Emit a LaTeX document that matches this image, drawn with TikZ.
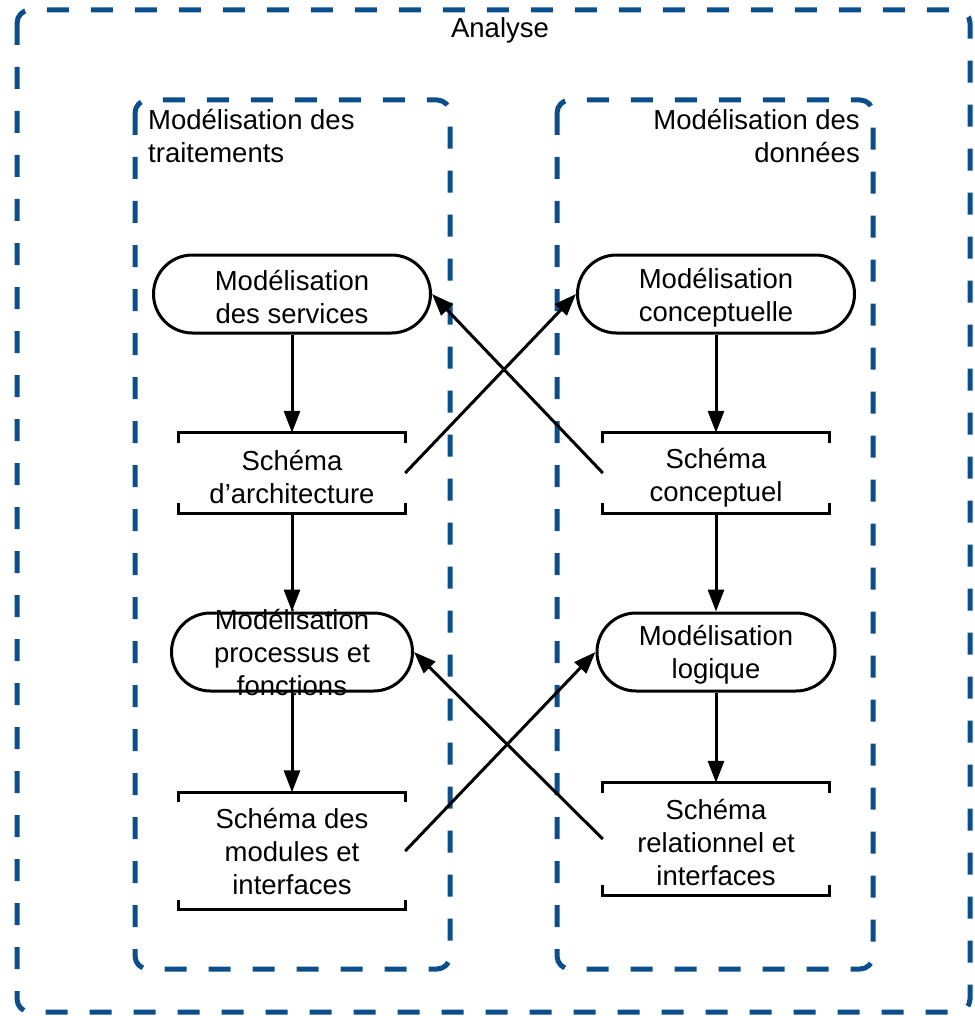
\documentclass[tikz,border=0pt]{standalone}
\usepackage{fontspec}
\setmainfont{Liberation Sans}
\usetikzlibrary{arrows.meta,shapes.misc}
\definecolor{frameblue}{RGB}{12,78,140}
\begin{document}
\begin{tikzpicture}[x=1pt,y=-1pt,
  every node/.style={font=\fontsize{27.5}{33}\selectfont},
  frame/.style={draw=frameblue,line width=5pt,dash pattern=on 22pt off 22pt,rounded corners=13pt},
  term/.style={draw,line width=3pt,rounded rectangle,minimum height=78pt,inner sep=0pt},
  txt/.style={align=center,inner sep=0pt},
  doc/.style={inner sep=0pt,minimum width=226pt,
    append after command={
      \pgfextra{\draw[line width=3pt,line cap=butt]
        ([yshift=-10pt]\tikzlastnode.north west) -- (\tikzlastnode.north west) -- (\tikzlastnode.north east) -- ([yshift=-10pt]\tikzlastnode.north east)
        ([yshift=10pt]\tikzlastnode.south west) -- (\tikzlastnode.south west) -- (\tikzlastnode.south east) -- ([yshift=10pt]\tikzlastnode.south east);}}},
  arr/.style={line width=3pt,-{Triangle[length=22pt,width=16pt]}}
]
\useasboundingbox (0,0) rectangle (974,1016);
% frames
\draw[frame] (17,10) rectangle (970,1012);
\draw[frame] (135,100) rectangle (450,969);
\draw[frame] (557,100) rectangle (873,969);
\node[anchor=base] (analyse) at (500,38) {Analyse};
\node[anchor=base west,align=left,inner sep=0pt] (ltitle) at (148,163) {Modélisation des\\traitements};
\node[anchor=base east,align=right,inner sep=0pt] (rtitle) at (860,163) {Modélisation des\\données};
% left column
\node[term,minimum width=277pt] (serv) at (292,294) {};
\node[txt] (servt) at ([yshift=-3pt]serv) {Modélisation\\des services};
\node[doc,minimum height=80pt] (arch) at (292,473) {};
\node[txt] (archt) at ([yshift=-4pt]arch) {Schéma\\d’architecture};
\node[term,minimum width=241pt] (proc) at (292,652) {};
\node[txt] (proct) at ([yshift=-1pt]proc) {Modélisation\\processus et\\fonctions};
\node[doc,minimum height=117pt] (mod) at (292,851) {};
\node[txt] (modt) at (mod) {Schéma des\\modules et\\interfaces};
% right column
\node[term,minimum width=277pt] (conc) at (716,294) {};
\node[txt] (conct) at ([yshift=-4pt]conc) {Modélisation\\conceptuelle};
\node[doc,minimum height=80pt] (schc) at (716,473) {};
\node[txt] (schct) at ([yshift=-5pt]schc) {Schéma\\conceptuel};
\node[term,minimum width=238pt] (log) at (716,652) {};
\node[txt] (logt) at ([yshift=-3pt]log) {Modélisation\\logique};
\node[doc,minimum height=112pt] (rel) at (716,839) {};
\node[txt] (relt) at ([yshift=-3pt]rel) {Schéma\\relationnel et\\interfaces};
% arrows
\draw[arr] (serv.south) -- (arch.north);
\draw[arr] (arch.south) -- (proc.north);
\draw[arr] (proc.south) -- (mod.north);
\draw[arr] (conc.south) -- (schc.north);
\draw[arr] (schc.south) -- (log.north);
\draw[arr] (log.south) -- (rel.north);
\draw[arr] (arch.east) -- (conc.west);
\draw[arr] (schc.west) -- (serv.east);
\draw[arr] (mod.east) -- (log.west);
\draw[arr] (rel.west) -- (proc.east);
\end{tikzpicture}
\end{document}
